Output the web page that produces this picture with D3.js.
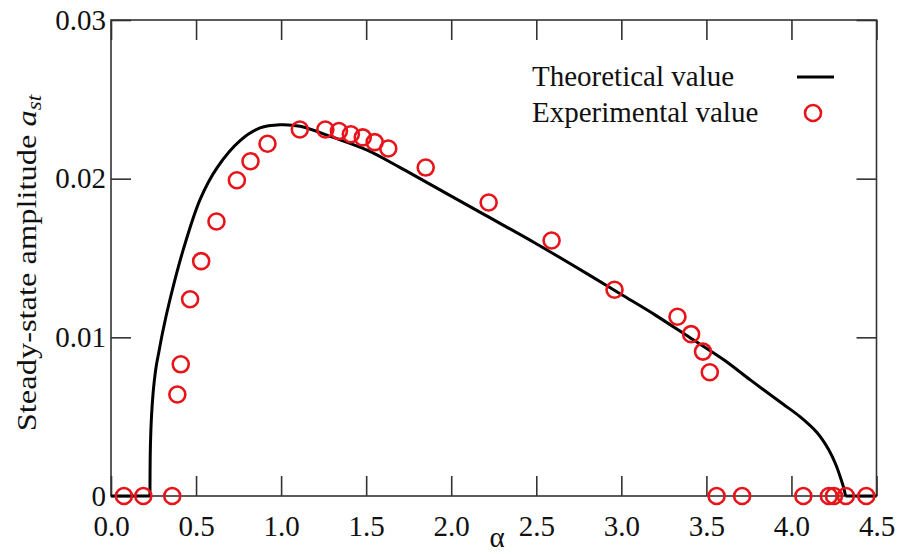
<!DOCTYPE html>
<html>
<head>
<meta charset="utf-8">
<script src="https://cdn.jsdelivr.net/npm/d3@7"></script>
<style>
  html, body { margin: 0; padding: 0; background: #fff; }
  svg { display: block; }
  text { font-family: "Liberation Serif", "DejaVu Serif", "Times New Roman", serif; fill: #111; }
</style>
</head>
<body>
<svg id="chart" width="899" height="554"></svg>
<script>
// ---- Data ----
const xTicks = [0, 0.5, 1.0, 1.5, 2.0, 2.5, 3.0, 3.5, 4.0, 4.5];
const yTicks = [0, 0.01, 0.02, 0.03];
const yTickLabels = ["0", "0.01", "0.02", "0.03"];

// Theoretical curve
const alphaTheo = [0, 0.229, 0.2305, 0.234, 0.239, 0.246, 0.255, 0.266, 0.280, 0.305, 0.347, 0.424, 0.524, 0.624,
                   0.759, 0.876, 0.994, 1.112, 1.306, 1.506, 1.700, 2.0, 2.2, 2.5, 2.8, 3.0, 3.2, 3.4, 3.6,
                   3.76, 3.95, 4.05, 4.15, 4.22, 4.26, 4.29, 4.31, 4.318, 4.5];
const ampTheo   = [0, 0, 0.0025, 0.0040, 0.0052, 0.0063, 0.0073, 0.0082, 0.0090, 0.0104, 0.0124, 0.0155, 0.0187, 0.0207,
                   0.0224, 0.0232, 0.0234, 0.0233, 0.0226, 0.0218, 0.0207, 0.0189, 0.0177, 0.0159, 0.0140, 0.0127, 0.0114, 0.0100, 0.0086,
                   0.0073, 0.0058, 0.0050, 0.0040, 0.0029, 0.0020, 0.0011, 0.0004, 0, 0];

// Experimental values
const alphaExp = [0.076, 0.19, 0.36, 0.39, 0.41, 0.465, 0.53, 0.62, 0.74, 0.82, 0.92, 1.11, 1.26, 1.34,
                  1.41, 1.48, 1.55, 1.63, 1.85, 2.22, 2.59, 2.96, 3.33, 3.41, 3.48, 3.52,
                  3.56, 3.71, 4.07, 4.22, 4.25, 4.32, 4.44];
const ampExp   = [0, 0, 0, 0.0064, 0.0083, 0.0124, 0.0148, 0.0173, 0.0199, 0.0211, 0.0222, 0.0231, 0.0231, 0.0230,
                  0.0228, 0.0226, 0.0223, 0.0219, 0.0207, 0.0185, 0.0161, 0.0130, 0.0113, 0.0102, 0.0091, 0.0078,
                  0, 0, 0, 0, 0, 0, 0];

const legendLabels = ["Theoretical value", "Experimental value"];

// ---- Layout ----
const svg = d3.select("#chart");
const L = 111, R = 876.5, T = 20, B = 496;
const x = d3.scaleLinear().domain([0, 4.5]).range([L, R]);
const y = d3.scaleLinear().domain([0, 0.03]).range([B, T]);
const red = "#e8141a";
const fs = 29;
const serif = '"Liberation Serif", "DejaVu Serif", serif';

// axes (ticks inward)
const fmtX = d3.format(".1f");
const gBottom = svg.append("g").attr("transform", `translate(0,${B})`)
  .call(d3.axisBottom(x).tickValues(xTicks).tickSize(-20).tickPadding(19).tickFormat(fmtX));
const gTop = svg.append("g").attr("transform", `translate(0,${T})`)
  .call(d3.axisTop(x).tickValues(xTicks).tickSize(-20).tickFormat(""));
const gLeft = svg.append("g").attr("transform", `translate(${L},0)`)
  .call(d3.axisLeft(y).tickValues(yTicks).tickSize(-20).tickPadding(5).tickFormat((d, i) => yTickLabels[i]));
const gRight = svg.append("g").attr("transform", `translate(${R},0)`)
  .call(d3.axisRight(y).tickValues(yTicks).tickSize(-20).tickFormat(""));

[gBottom, gTop, gLeft, gRight].forEach(g => {
  g.attr("font-family", serif);
  g.select(".domain").remove();
  g.selectAll(".tick line").attr("stroke", "#333").attr("stroke-width", 1.6);
  g.selectAll(".tick text").attr("font-size", fs).attr("font-family", serif).attr("fill", "#111");
});

// frame
svg.append("rect").attr("x", L).attr("y", T).attr("width", R - L).attr("height", B - T)
  .attr("fill", "none").attr("stroke", "#333").attr("stroke-width", 1.6);

// theoretical curve: flat parts and the arch
const theo = alphaTheo.map((a, i) => [a, ampTheo[i]]);
const iStart = 1, iEnd = theo.length - 2;
const lineStraight = d3.line().x(d => x(d[0])).y(d => y(d[1]));
const lineSmooth = d3.line().x(d => x(d[0])).y(d => y(d[1])).curve(d3.curveCatmullRom.alpha(0.5));
svg.append("path").datum(theo.slice(0, iStart + 1))
  .attr("fill", "none").attr("stroke", "#000").attr("stroke-width", 3).attr("d", lineStraight);
svg.append("path").datum(theo.slice(iStart, iEnd + 1))
  .attr("fill", "none").attr("stroke", "#000").attr("stroke-width", 3).attr("stroke-linejoin", "round").attr("d", lineSmooth);
svg.append("path").datum(theo.slice(iEnd))
  .attr("fill", "none").attr("stroke", "#000").attr("stroke-width", 3).attr("d", lineStraight);

// experimental circles
svg.append("g").selectAll("circle")
  .data(alphaExp.map((a, i) => [a, ampExp[i]]))
  .join("circle")
  .attr("cx", d => x(d[0])).attr("cy", d => y(d[1])).attr("r", 8)
  .attr("fill", "none").attr("stroke", red).attr("stroke-width", 2.6);

// legend
svg.append("text").attr("x", 532).attr("y", 86).attr("font-size", fs).attr("font-family", serif).text(legendLabels[0]);
svg.append("text").attr("x", 532).attr("y", 122).attr("font-size", fs).attr("font-family", serif).text(legendLabels[1]);
svg.append("line").attr("x1", 797).attr("x2", 834).attr("y1", 77).attr("y2", 77)
  .attr("stroke", "#000").attr("stroke-width", 3);
svg.append("circle").attr("cx", 813).attr("cy", 113).attr("r", 8)
  .attr("fill", "none").attr("stroke", red).attr("stroke-width", 2.6);

// axis labels
svg.append("text").attr("x", 497).attr("y", 547).attr("text-anchor", "middle")
  .attr("font-size", fs).attr("font-family", serif).text("α");

const yl = svg.append("text").attr("transform", "translate(36,263) rotate(-90) scale(1.16,1)")
  .attr("text-anchor", "middle").attr("font-size", 28).attr("font-family", serif);
yl.append("tspan").text("Steady-state amplitude ");
yl.append("tspan").attr("font-style", "italic").text("a");
yl.append("tspan").attr("font-style", "italic").attr("font-size", 20).attr("dy", 5).text("st");
</script>
</body>
</html>
